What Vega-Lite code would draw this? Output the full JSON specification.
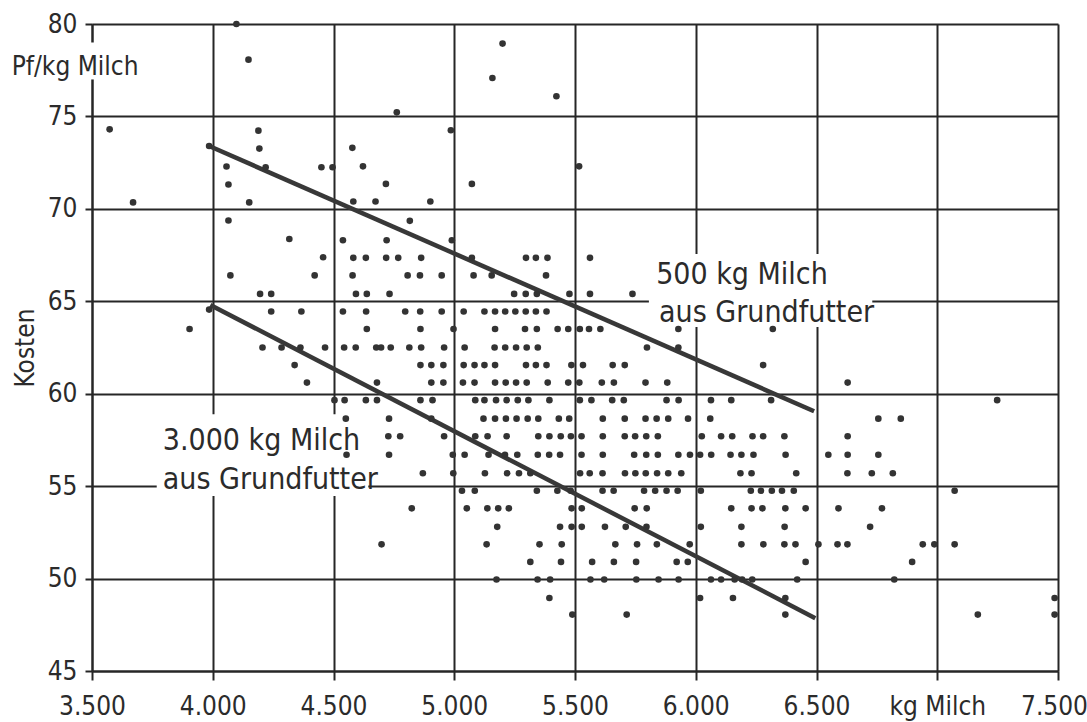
{
  "$schema": "https://vega.github.io/schema/vega-lite/v6.json",
  "width": 966,
  "height": 647,
  "autosize": "none",
  "padding": {"left": 92, "top": 24, "right": 29, "bottom": 51},
  "background": "white",
  "config": {
    "view": {"stroke": null},
    "font": "DejaVu Sans Condensed, DejaVu Sans, sans-serif"
  },
  "datasets": {
    "points": [
      {"x":3573,"y":74.3},{"x":3670,"y":70.35},{"x":4098,"y":80},{"x":4148,"y":78.07},{"x":4189,"y":74.23},{"x":4193,"y":73.26},{"x":4057,"y":72.29},{"x":4219,"y":72.25},{"x":4065,"y":71.32},{"x":4151,"y":70.35},{"x":4450,"y":72.25},{"x":4496,"y":72.25},{"x":4065,"y":69.37},{"x":3985,"y":73.4},
      {"x":5200,"y":78.94},{"x":5158,"y":77.08},{"x":5423,"y":76.09},{"x":4762,"y":75.22},{"x":4986,"y":74.25},{"x":4578,"y":73.3},{"x":4622,"y":72.3},{"x":4717,"y":71.35},{"x":4582,"y":70.4},{"x":4674,"y":70.4},{"x":4901,"y":70.4},{"x":5073,"y":71.35},{"x":5517,"y":72.3},{"x":4816,"y":69.35},
      {"x":4317,"y":68.37},{"x":4457,"y":67.38},{"x":4073,"y":66.4},{"x":4422,"y":66.4},{"x":4196,"y":65.4},{"x":4242,"y":65.4},{"x":4242,"y":64.45},{"x":4367,"y":64.45},{"x":3904,"y":63.5},{"x":4206,"y":62.5},{"x":4285,"y":62.5},{"x":4363,"y":62.5},{"x":4465,"y":62.5},{"x":4339,"y":61.55},{"x":4390,"y":60.6},{"x":3985,"y":64.55},
      {"x":4539,"y":68.3},{"x":4720,"y":68.3},{"x":4990,"y":68.3},
      {"x":4582,"y":67.35},{"x":4634,"y":67.35},{"x":4718,"y":67.35},{"x":4768,"y":67.35},{"x":4863,"y":67.35},{"x":5073,"y":67.35},{"x":5297,"y":67.35},{"x":5338,"y":67.35},{"x":5386,"y":67.35},{"x":5562,"y":67.35},
      {"x":4579,"y":66.4},{"x":4807,"y":66.4},{"x":4858,"y":66.4},{"x":4948,"y":66.4},{"x":5080,"y":66.4},{"x":5155,"y":66.4},{"x":5380,"y":66.4},
      {"x":4593,"y":65.4},{"x":4638,"y":65.4},{"x":4732,"y":65.4},{"x":5248,"y":65.4},{"x":5296,"y":65.4},{"x":5342,"y":65.4},{"x":5477,"y":65.4},{"x":5562,"y":65.4},{"x":5738,"y":65.4},
      {"x":4539,"y":64.45},{"x":4635,"y":64.45},{"x":4797,"y":64.45},{"x":4859,"y":64.45},{"x":4948,"y":64.45},{"x":5039,"y":64.45},{"x":5125,"y":64.45},{"x":5169,"y":64.45},{"x":5211,"y":64.45},{"x":5253,"y":64.45},{"x":5296,"y":64.45},{"x":5338,"y":64.45},{"x":5382,"y":64.45},
      {"x":4638,"y":63.5},{"x":4860,"y":63.5},{"x":4997,"y":63.5},{"x":5169,"y":63.5},{"x":5293,"y":63.5},{"x":5342,"y":63.5},{"x":5428,"y":63.5},{"x":5472,"y":63.5},{"x":5520,"y":63.5},{"x":5558,"y":63.5},{"x":5605,"y":63.5},{"x":5928,"y":63.5},{"x":6319,"y":63.5},
      {"x":4544,"y":62.5},{"x":4592,"y":62.5},{"x":4677,"y":62.5},{"x":4697,"y":62.5},{"x":4737,"y":62.5},{"x":4814,"y":62.5},{"x":4863,"y":62.5},{"x":4958,"y":62.5},{"x":5043,"y":62.5},{"x":5167,"y":62.5},{"x":5211,"y":62.5},{"x":5256,"y":62.5},{"x":5300,"y":62.5},{"x":5346,"y":62.5},{"x":5798,"y":62.5},{"x":5928,"y":62.5},
      {"x":4860,"y":61.55},{"x":4905,"y":61.55},{"x":4955,"y":61.55},{"x":5039,"y":61.55},{"x":5084,"y":61.55},{"x":5125,"y":61.55},{"x":5169,"y":61.55},{"x":5297,"y":61.55},{"x":5338,"y":61.55},{"x":5382,"y":61.55},{"x":5485,"y":61.55},{"x":5533,"y":61.55},{"x":5656,"y":61.55},{"x":5706,"y":61.55},{"x":6279,"y":61.55},
      {"x":4680,"y":60.6},{"x":4905,"y":60.6},{"x":4955,"y":60.6},{"x":5036,"y":60.6},{"x":5084,"y":60.6},{"x":5169,"y":60.6},{"x":5213,"y":60.6},{"x":5256,"y":60.6},{"x":5300,"y":60.6},{"x":5387,"y":60.6},{"x":5472,"y":60.6},{"x":5518,"y":60.6},{"x":5611,"y":60.6},{"x":5661,"y":60.6},{"x":5792,"y":60.6},{"x":5882,"y":60.6},{"x":6629,"y":60.6},
      {"x":4504,"y":59.65},{"x":4546,"y":59.65},{"x":4634,"y":59.65},{"x":4680,"y":59.65},{"x":4860,"y":59.65},{"x":4910,"y":59.65},{"x":5087,"y":59.65},{"x":5125,"y":59.65},{"x":5173,"y":59.65},{"x":5217,"y":59.65},{"x":5263,"y":59.65},{"x":5307,"y":59.65},{"x":5394,"y":59.65},{"x":5520,"y":59.65},{"x":5568,"y":59.65},{"x":5654,"y":59.65},{"x":5702,"y":59.65},{"x":5879,"y":59.65},{"x":5929,"y":59.65},{"x":6063,"y":59.65},{"x":6147,"y":59.65},{"x":6312,"y":59.65},{"x":7248,"y":59.65},
      {"x":4551,"y":58.65},{"x":4730,"y":58.65},{"x":4905,"y":58.65},{"x":5121,"y":58.65},{"x":5169,"y":58.65},{"x":5214,"y":58.65},{"x":5258,"y":58.65},{"x":5304,"y":58.65},{"x":5348,"y":58.65},{"x":5433,"y":58.65},{"x":5476,"y":58.65},{"x":5615,"y":58.65},{"x":5706,"y":58.65},{"x":5792,"y":58.65},{"x":5838,"y":58.65},{"x":5886,"y":58.65},{"x":5968,"y":58.65},{"x":6060,"y":58.65},{"x":6756,"y":58.65},{"x":6849,"y":58.65},
      {"x":4727,"y":57.7},{"x":4776,"y":57.7},{"x":4958,"y":57.7},{"x":5087,"y":57.7},{"x":5138,"y":57.7},{"x":5217,"y":57.7},{"x":5348,"y":57.7},{"x":5394,"y":57.7},{"x":5441,"y":57.7},{"x":5483,"y":57.7},{"x":5527,"y":57.7},{"x":5615,"y":57.7},{"x":5706,"y":57.7},{"x":5749,"y":57.7},{"x":5795,"y":57.7},{"x":5843,"y":57.7},{"x":6025,"y":57.7},{"x":6105,"y":57.7},{"x":6151,"y":57.7},{"x":6235,"y":57.7},{"x":6279,"y":57.7},{"x":6367,"y":57.7},{"x":6629,"y":57.7},
      {"x":4554,"y":56.7},{"x":4730,"y":56.7},{"x":4994,"y":56.7},{"x":5043,"y":56.7},{"x":5142,"y":56.7},{"x":5210,"y":56.7},{"x":5261,"y":56.7},{"x":5346,"y":56.7},{"x":5393,"y":56.7},{"x":5438,"y":56.7},{"x":5527,"y":56.7},{"x":5615,"y":56.7},{"x":5745,"y":56.7},{"x":5795,"y":56.7},{"x":5843,"y":56.7},{"x":5928,"y":56.7},{"x":5976,"y":56.7},{"x":6018,"y":56.7},{"x":6064,"y":56.7},{"x":6144,"y":56.7},{"x":6189,"y":56.7},{"x":6239,"y":56.7},{"x":6372,"y":56.7},{"x":6549,"y":56.7},{"x":6629,"y":56.7},{"x":6756,"y":56.7},
      {"x":4870,"y":55.7},{"x":4996,"y":55.7},{"x":5127,"y":55.7},{"x":5219,"y":55.7},{"x":5268,"y":55.7},{"x":5315,"y":55.7},{"x":5521,"y":55.7},{"x":5561,"y":55.7},{"x":5614,"y":55.7},{"x":5707,"y":55.7},{"x":5750,"y":55.7},{"x":5793,"y":55.7},{"x":5840,"y":55.7},{"x":5886,"y":55.7},{"x":5940,"y":55.7},{"x":6185,"y":55.7},{"x":6231,"y":55.7},{"x":6416,"y":55.7},{"x":6628,"y":55.7},{"x":6729,"y":55.7},{"x":6816,"y":55.7},
      {"x":5032,"y":54.75},{"x":5085,"y":54.75},{"x":5342,"y":54.75},{"x":5427,"y":54.75},{"x":5482,"y":54.75},{"x":5614,"y":54.75},{"x":5660,"y":54.75},{"x":5786,"y":54.75},{"x":5832,"y":54.75},{"x":5879,"y":54.75},{"x":5925,"y":54.75},{"x":6021,"y":54.75},{"x":6228,"y":54.75},{"x":6270,"y":54.75},{"x":6315,"y":54.75},{"x":6357,"y":54.75},{"x":6406,"y":54.75},{"x":7072,"y":54.75},
      {"x":4824,"y":53.8},{"x":5052,"y":53.8},{"x":5137,"y":53.8},{"x":5182,"y":53.8},{"x":5226,"y":53.8},{"x":5486,"y":53.8},{"x":5528,"y":53.8},{"x":5747,"y":53.8},{"x":5797,"y":53.8},{"x":6147,"y":53.8},{"x":6231,"y":53.8},{"x":6276,"y":53.8},{"x":6371,"y":53.8},{"x":6455,"y":53.8},{"x":6591,"y":53.8},{"x":6771,"y":53.8},
      {"x":5178,"y":52.8},{"x":5438,"y":52.8},{"x":5486,"y":52.8},{"x":5528,"y":52.8},{"x":5624,"y":52.8},{"x":5710,"y":52.8},{"x":5796,"y":52.8},{"x":6021,"y":52.8},{"x":6189,"y":52.8},{"x":6368,"y":52.8},{"x":6722,"y":52.8},
      {"x":4699,"y":51.85},{"x":5134,"y":51.85},{"x":5353,"y":51.85},{"x":5445,"y":51.85},{"x":5667,"y":51.85},{"x":5757,"y":51.85},{"x":5839,"y":51.85},{"x":5975,"y":51.85},{"x":6189,"y":51.85},{"x":6280,"y":51.85},{"x":6367,"y":51.85},{"x":6413,"y":51.85},{"x":6508,"y":51.85},{"x":6587,"y":51.85},{"x":6628,"y":51.85},{"x":6940,"y":51.85},{"x":6988,"y":51.85},{"x":7072,"y":51.85},
      {"x":5315,"y":50.9},{"x":5442,"y":50.9},{"x":5571,"y":50.9},{"x":5661,"y":50.9},{"x":5753,"y":50.9},{"x":5921,"y":50.9},{"x":5967,"y":50.9},{"x":6455,"y":50.9},{"x":6896,"y":50.9},
      {"x":5175,"y":49.95},{"x":5345,"y":49.95},{"x":5397,"y":49.95},{"x":5564,"y":49.95},{"x":5621,"y":49.95},{"x":5754,"y":49.95},{"x":5846,"y":49.95},{"x":5929,"y":49.95},{"x":6063,"y":49.95},{"x":6105,"y":49.95},{"x":6161,"y":49.95},{"x":6192,"y":49.95},{"x":6234,"y":49.95},{"x":6420,"y":49.95},{"x":6822,"y":49.95},
      {"x":5394,"y":48.95},{"x":6018,"y":48.95},{"x":6154,"y":48.95},{"x":6371,"y":48.95},{"x":7486,"y":48.95},
      {"x":5489,"y":48.05},{"x":5714,"y":48.05},{"x":6371,"y":48.05},{"x":7168,"y":48.05},{"x":7486,"y":48.05}
    ],
    "lines": [
      {"line":"500 kg","x":3985,"y":73.4},{"line":"500 kg","x":6490,"y":59.05},
      {"line":"3000 kg","x":3990,"y":64.8},{"line":"3000 kg","x":6495,"y":47.86}
    ],
    "boxes": [
      {"x":3471,"x2":3529,"y":77.0,"y2":79.0},
      {"x":5806,"x2":6731,"y":63.61,"y2":67.56},
      {"x":3768,"x2":4644,"y":54.47,"y2":58.89}
    ],
    "labels": [
      {"x":5836,"y":65.94,"label":"500 kg Milch"},
      {"x":5848,"y":63.9,"label":"aus Grundfutter"},
      {"x":3793,"y":56.94,"label":"3.000 kg Milch"},
      {"x":3793,"y":54.82,"label":"aus Grundfutter"}
    ],
    "unit": [
      {"x":3430,"y":77.25,"label":"Pf/kg Milch"}
    ]
  },
  "encoding": {
    "x": {
      "field": "x", "type": "quantitative",
      "scale": {"domain": [3500, 7500], "nice": false, "zero": false},
      "axis": {
        "values": [3500,4000,4500,5000,5500,6000,6500,7000,7500],
        "labelExpr": "datum.value == 7000 ? 'kg Milch' : replace(format(datum.value, ','), ',', '.')",
        "title": null,
        "grid": true, "gridColor": "#262626", "gridWidth": 2, "gridOpacity": 1,
        "domain": true, "domainColor": "#262626", "domainWidth": 2,
        "ticks": true, "tickSize": 9, "tickWidth": 2, "tickColor": "#262626",
        "labelFontSize": 26, "labelColor": "#2b2b2b", "labelPadding": 13,
        "labelOffset": {"condition": {"test": "datum.value == 7500", "value": -4}, "value": 0},
        "labelFlush": false, "labelOverlap": false
      }
    },
    "y": {
      "field": "y", "type": "quantitative",
      "scale": {"domain": [45, 80], "nice": false, "zero": false},
      "axis": {
        "values": [45,50,55,60,65,70,75,80],
        "title": "Kosten",
        "titleFontSize": 26, "titleFontWeight": "normal", "titleColor": "#2b2b2b", "titlePadding": 9,
        "grid": true, "gridColor": "#262626", "gridWidth": 2, "gridOpacity": 1,
        "domain": true, "domainColor": "#262626", "domainWidth": 2,
        "ticks": true, "tickSize": 7, "tickWidth": 2, "tickColor": "#262626",
        "labelFontSize": 26, "labelColor": "#2b2b2b", "labelPadding": 8,
        "labelFlush": false, "labelOverlap": false
      }
    }
  },
  "layer": [
    {
      "data": {"name": "boxes"},
      "mark": {"type": "rect", "fill": "white", "stroke": null, "clip": false},
      "encoding": {"x2": {"field": "x2"}, "y2": {"field": "y2"}}
    },
    {
      "data": {"name": "lines"},
      "mark": {"type": "line", "color": "#383838", "strokeWidth": 4.5, "strokeCap": "butt"},
      "encoding": {"detail": {"field": "line"}}
    },
    {
      "data": {"name": "points"},
      "mark": {"type": "circle", "color": "#333333", "size": 44, "opacity": 1}
    },
    {
      "data": {"name": "labels"},
      "mark": {"type": "text", "align": "left", "baseline": "alphabetic", "fontSize": 30, "color": "#2b2b2b"},
      "encoding": {"text": {"field": "label"}}
    },
    {
      "data": {"name": "unit"},
      "mark": {"type": "text", "align": "center", "baseline": "alphabetic", "fontSize": 26, "color": "#2b2b2b", "clip": false},
      "encoding": {"text": {"field": "label"}}
    }
  ]
}
